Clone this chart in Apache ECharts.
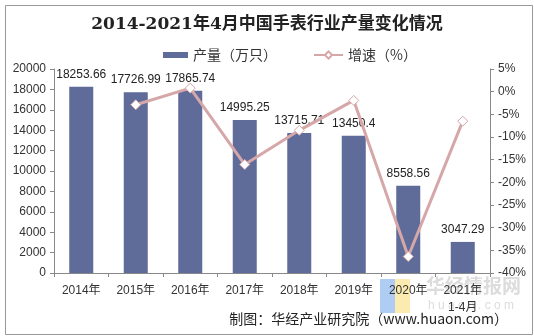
<!DOCTYPE html>
<html>
<head>
<meta charset="utf-8">
<script src="https://cdn.jsdelivr.net/npm/echarts@6/dist/echarts.min.js"></script>
<style>
  html, body { margin: 0; padding: 0; background: #fff; }
  #chart { width: 534px; height: 336px; }
</style>
</head>
<body>
<div id="chart"></div>
<script>
// Watch output in China, 2014 to Jan-Apr 2021
const categories = ['2014年', '2015年', '2016年', '2017年', '2018年', '2019年', '2020年', '2021年\n1-4月'];
const output = [18253.66, 17726.99, 17865.74, 14995.25, 13715.71, 13450.4, 8558.56, 3047.29];
const growth = [null, -2.89, 0.78, -16.07, -8.53, -1.93, -36.37, -6.5];
const leftTicks = { min: 0, max: 20000, interval: 2000 };
const rightTicks = { min: -40, max: 5, interval: 5 };

const barColor = '#5F6B99';
const lineColor = '#D6A7A8';
const font = '"Liberation Sans", Arial, "Noto Sans CJK SC", sans-serif';
const legendText = { fontFamily: '"Noto Sans CJK SC", sans-serif', fontSize: 14, color: '#333' };

const chart = echarts.init(document.getElementById('chart'), null, { renderer: 'canvas' });

chart.setOption({
  animation: false,
  backgroundColor: '#fff',
  textStyle: { fontFamily: font },
  title: {
    text: '2014-2021年4月中国手表行业产量变化情况',
    left: 'center',
    top: 11,
    textStyle: {
      fontFamily: '"DejaVu Serif", "Noto Sans CJK SC", serif',
      fontSize: 17,
      fontWeight: 'bold',
      color: '#222'
    }
  },
  legend: [
    {
      left: 158, top: 43,
      itemWidth: 25, itemHeight: 6, itemGap: 4,
      textStyle: legendText,
      data: [{ name: '产量（万只）', icon: 'rect', itemStyle: { color: barColor } }]
    },
    {
      left: 308, top: 43,
      itemWidth: 29, itemHeight: 9,
      textStyle: legendText,
      data: [{ name: '增速（%）' }]
    }
  ],
  grid: { left: 54, right: 44, top: 69, bottom: 63 },
  xAxis: {
    type: 'category',
    data: categories,
    boundaryGap: true,
    axisLine: { lineStyle: { color: '#888' } },
    axisTick: { show: true, alignWithLabel: false, length: 4, lineStyle: { color: '#888' } },
    axisLabel: { color: '#333', fontSize: 12, margin: 9, lineHeight: 17, fontFamily: font }
  },
  yAxis: [
    {
      type: 'value',
      min: leftTicks.min, max: leftTicks.max, interval: leftTicks.interval,
      splitLine: { show: false },
      axisLine: { show: true, lineStyle: { color: '#888' } },
      axisTick: { show: true, length: 4, lineStyle: { color: '#888' } },
      axisLabel: { color: '#333', fontSize: 12, margin: 8, formatter: v => String(v) }
    },
    {
      type: 'value',
      position: 'right',
      min: rightTicks.min, max: rightTicks.max, interval: rightTicks.interval,
      splitLine: { show: false },
      axisLine: { show: true, lineStyle: { color: '#888' } },
      axisTick: { show: true, length: 4, lineStyle: { color: '#888' } },
      axisLabel: { color: '#333', fontSize: 12, margin: 8, formatter: '{value}%' }
    }
  ],
  series: [
    {
      name: '产量（万只）',
      type: 'bar',
      data: output,
      barWidth: 24,
      itemStyle: { color: barColor },
      label: { show: true, position: 'top', distance: 6, color: '#222', fontSize: 12, fontFamily: font }
    },
    {
      name: '增速（%）',
      type: 'line',
      yAxisIndex: 1,
      data: growth,
      symbol: 'diamond',
      symbolSize: 10,
      connectNulls: false,
      lineStyle: { color: lineColor, width: 3 },
      itemStyle: { color: '#fff', borderColor: lineColor, borderWidth: 1 },
      z: 3
    }
  ],
  graphic: [
    {
      type: 'rect', left: 3, top: 3, z: -10, silent: true,
      shape: { width: 527, height: 329 },
      style: { fill: 'none', stroke: '#999', lineWidth: 1 }
    },
    // watermark logo
    { type: 'rect', left: 380, top: 279, z: -5, silent: true,
      shape: { width: 15, height: 34 }, style: { fill: '#AFCDF3' } },
    { type: 'rect', left: 395, top: 279, z: -5, silent: true,
      shape: { width: 15, height: 34 }, style: { fill: '#FBEBB0' } },
    { type: 'text', left: 426, top: 276, z: -5, silent: true,
      style: { text: '华经情报网', font: 'bold 19px "Noto Sans CJK SC", sans-serif', fill: '#DCDCDC' } },
    { type: 'text', left: 428, top: 300, z: -5, silent: true,
      style: { text: 'h u a o n . c o m', font: '12px "Liberation Sans", sans-serif', fill: '#DCDCDC' } },
    {
      type: 'text', right: 26, top: 312, silent: true,
      style: {
        text: '制图：华经产业研究院（www.huaon.com）',
        font: '14px "Noto Sans CJK SC", "Liberation Sans", sans-serif',
        fill: '#222'
      }
    }
  ]
});
</script>
</body>
</html>
